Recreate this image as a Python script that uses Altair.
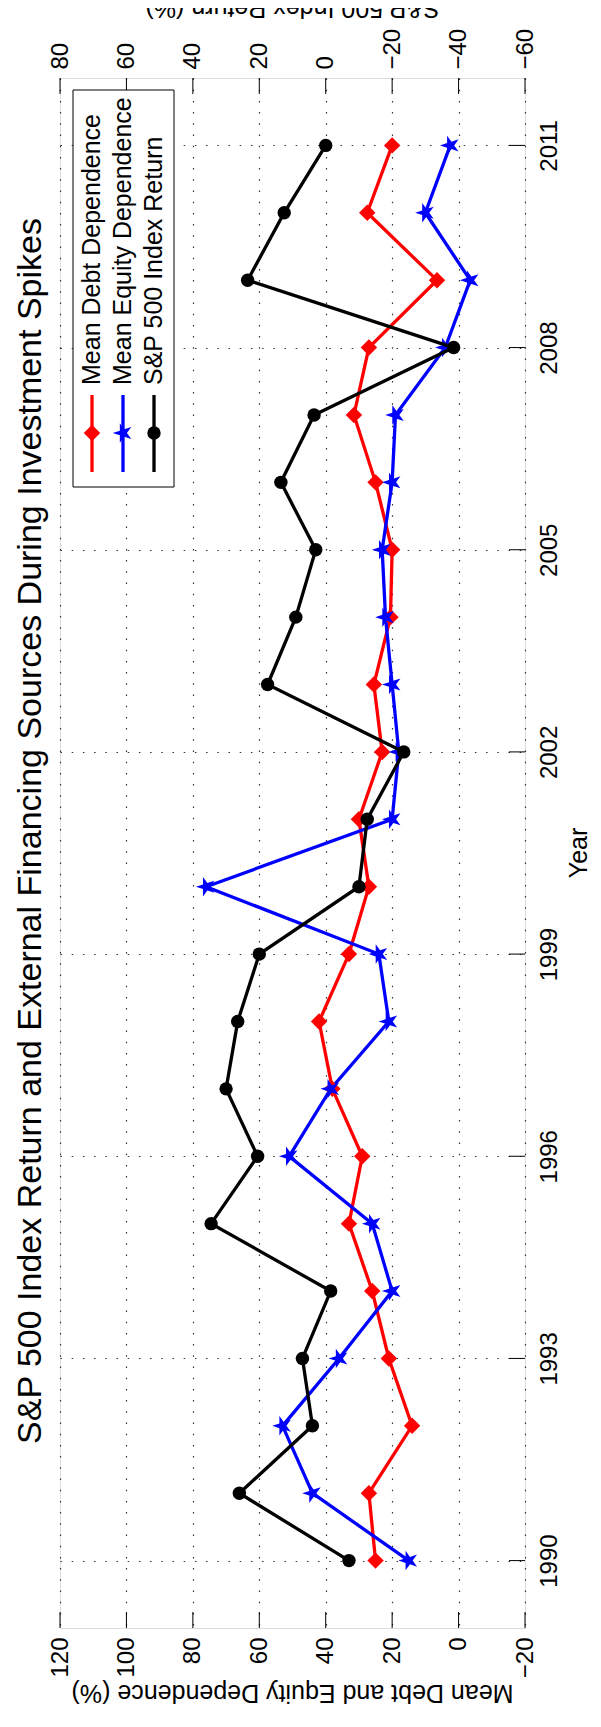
import altair as alt
import pandas as pd

# ---------------- data ----------------
years = list(range(1990, 2012))
debt = [25, 27, 14, 21, 26, 33, 29, 38, 42, 33, 27, 30, 23, 25.5, 20.5, 20, 25, 31.5, 27, 6.5, 27.5, 20]
equity = [15, 44, 53, 36, 20, 26, 51, 38.5, 21, 24, 76, 20, 18, 20, 22, 23, 20, 19, 4, -3.5, 10, 2.5]
sp500 = [-7, 26, 4, 7, -1.5, 34.5, 20.5, 30, 26.5, 20, -10, -12.5, -23.5, 17.5, 9, 3, 13.5, 3.5, -38.5, 23.5, 12.5, 0]

dep_ticks = [-20, 0, 20, 40, 60, 80, 100, 120]
sp_ticks = [-60, -40, -20, 0, 20, 40, 60, 80]
year_ticks = [1990, 1993, 1996, 1999, 2002, 2005, 2008, 2011]

series_names = ["Mean Debt Dependence", "Mean Equity Dependence", "S&P 500 Index Return"]
series_colors = ["#ff0000", "#0000ff", "#000000"]

title_text = "S&P 500 Index Return and External Financing Sources During Investment Spikes"
dep_title = "Mean Debt and Equity Dependence (%)"
sp_title = "S&P 500 Index Return (%)"
year_title = "Year"

# ---------------- layout ----------------
W, H = 465, 1550
FONT = "Liberation Sans"
TICK = 16
STAR = ("M-1,0L-0.309,-0.225L-0.309,-0.951L0.118,-0.363L0.809,-0.588L0.382,0"
        "L0.809,0.588L0.118,0.363L-0.309,0.951L-0.309,0.225Z")
GRID_DASH = [1.5, 9.7]

dep_df = pd.DataFrame({"year": years * 2,
                       "value": debt + equity,
                       "series": [series_names[0]] * len(years) + [series_names[1]] * len(years)})
sp_df = pd.DataFrame({"year": years, "sp": sp500})
dep_tick_df = pd.DataFrame({"t": dep_ticks})
year_tick_df = pd.DataFrame({"yt": year_ticks})
one = pd.DataFrame({"a": [0]})

dep_scale = alt.Scale(domain=[-20, 120], reverse=True, nice=False, zero=False)
sp_scale = alt.Scale(domain=[-60, 80], reverse=True, nice=False, zero=False)
year_scale = alt.Scale(domain=[1989, 2012], nice=False, zero=False)

year_axis = alt.Axis(orient="right", values=year_ticks, format="d", labelAngle=270,
                     labelAlign="center", labelBaseline="top", labelPadding=12,
                     labelFontSize=24, ticks=False, domain=False, grid=True,
                     gridDash=GRID_DASH, gridColor="#333333", gridWidth=1.2, title=None)
dep_axis = alt.Axis(orient="bottom", values=dep_ticks, labelAngle=270, labelAlign="right",
                    labelBaseline="middle", labelPadding=9, labelFontSize=24, ticks=False,
                    domain=False, grid=True, gridDash=GRID_DASH, gridColor="#333333",
                    gridWidth=1.2, title=None)
sp_axis = alt.Axis(orient="top", values=sp_ticks, labelAngle=270, labelAlign="left",
                   labelBaseline="middle", labelPadding=9, labelFontSize=24, ticks=False,
                   domain=False, grid=False, title=None)

y_enc = alt.Y("year:Q", scale=year_scale, axis=year_axis)
x_dep = alt.X("value:Q", scale=dep_scale, axis=dep_axis)

color_enc = alt.Color("series:N", scale=alt.Scale(domain=series_names[:2], range=series_colors[:2]), legend=None)
shape_enc = alt.Shape("series:N", scale=alt.Scale(domain=series_names[:2], range=["diamond", STAR]), legend=None)
size_enc = alt.Size("series:N", scale=alt.Scale(domain=series_names[:2], range=[270, 420]), legend=None)

dep_lines = alt.Chart(dep_df).mark_line(strokeWidth=3.3).encode(
    x=x_dep, y=y_enc, color=color_enc, detail="series:N", order="year:Q")
dep_points = alt.Chart(dep_df).mark_point(filled=True, opacity=1).encode(
    x=x_dep, y=y_enc, color=color_enc, shape=shape_enc, size=size_enc)

bottom_ticks = alt.Chart(dep_tick_df).mark_rule(color="black", strokeWidth=1).encode(
    x=alt.X("t:Q", scale=dep_scale, axis=dep_axis), y=alt.value(H), y2=alt.value(H - TICK))
top_ticks = alt.Chart(dep_tick_df).mark_rule(color="black", strokeWidth=1).encode(
    x=alt.X("t:Q", scale=dep_scale, axis=dep_axis), y=alt.value(0), y2=alt.value(TICK))
right_ticks = alt.Chart(year_tick_df).mark_rule(color="black", strokeWidth=1).encode(
    y=alt.Y("yt:Q", scale=year_scale, axis=year_axis), x=alt.value(W), x2=alt.value(W - TICK))

layer_a = alt.layer(bottom_ticks, top_ticks, right_ticks, dep_lines, dep_points)

x_sp = alt.X("sp:Q", scale=sp_scale, axis=sp_axis)
sp_line = alt.Chart(sp_df).mark_line(strokeWidth=3.3, color="black").encode(x=x_sp, y=y_enc, order="year:Q")
sp_points = alt.Chart(sp_df).mark_point(filled=True, size=180, shape="circle", color="black", opacity=1).encode(x=x_sp, y=y_enc)
layer_b = alt.layer(sp_line, sp_points)

# ---------------- legend & titles (rotated text) ----------------
def txt(s, x, y, angle, size, align="center", baseline="alphabetic"):
    return alt.Chart(one).mark_text(text=s, angle=angle, fontSize=size, font=FONT, color="black",
                                    align=align, baseline=baseline).encode(x=alt.value(x), y=alt.value(y))

legend_parts = [
    alt.Chart(one).mark_rect(fill="white", stroke="black", strokeWidth=1).encode(
        x=alt.value(13), x2=alt.value(114), y=alt.value(12), y2=alt.value(409))
]
leg_x = [32, 63, 94]
leg_shapes = ["diamond", STAR, "circle"]
leg_sizes = [270, 420, 180]
for i in range(3):
    legend_parts.append(alt.Chart(one).mark_rule(color=series_colors[i], strokeWidth=3.3).encode(
        x=alt.value(leg_x[i]), y=alt.value(317), y2=alt.value(394)))
    legend_parts.append(alt.Chart(one).mark_point(filled=True, opacity=1, color=series_colors[i],
                                                  shape=leg_shapes[i], size=leg_sizes[i]).encode(
        x=alt.value(leg_x[i]), y=alt.value(355)))
    legend_parts.append(txt(series_names[i], leg_x[i], 307, 270, 25, align="left", baseline="middle"))

titles = [
    txt(title_text, -19, 753, 270, 34),
    txt(year_title, 527, 775, 270, 25),
    txt(dep_title, W / 2, 1607, 180, 25),
    txt(sp_title, W / 2, -78, 180, 25),
]
layer_c = alt.layer(*legend_parts, *titles)

chart = alt.layer(layer_a, layer_b, layer_c).resolve_scale(x="independent").properties(
    width=W, height=H,
    autosize=alt.AutoSizeParams(type="none"),
    padding={"left": 52, "top": 70, "right": 68, "bottom": 91},
).configure_view(stroke="black", strokeWidth=1).configure_axis(
    labelFont=FONT, labelColor="black", titleFont=FONT
).configure(background="white")

chart.save("out.html", embed_options={"renderer": "svg", "actions": False})
